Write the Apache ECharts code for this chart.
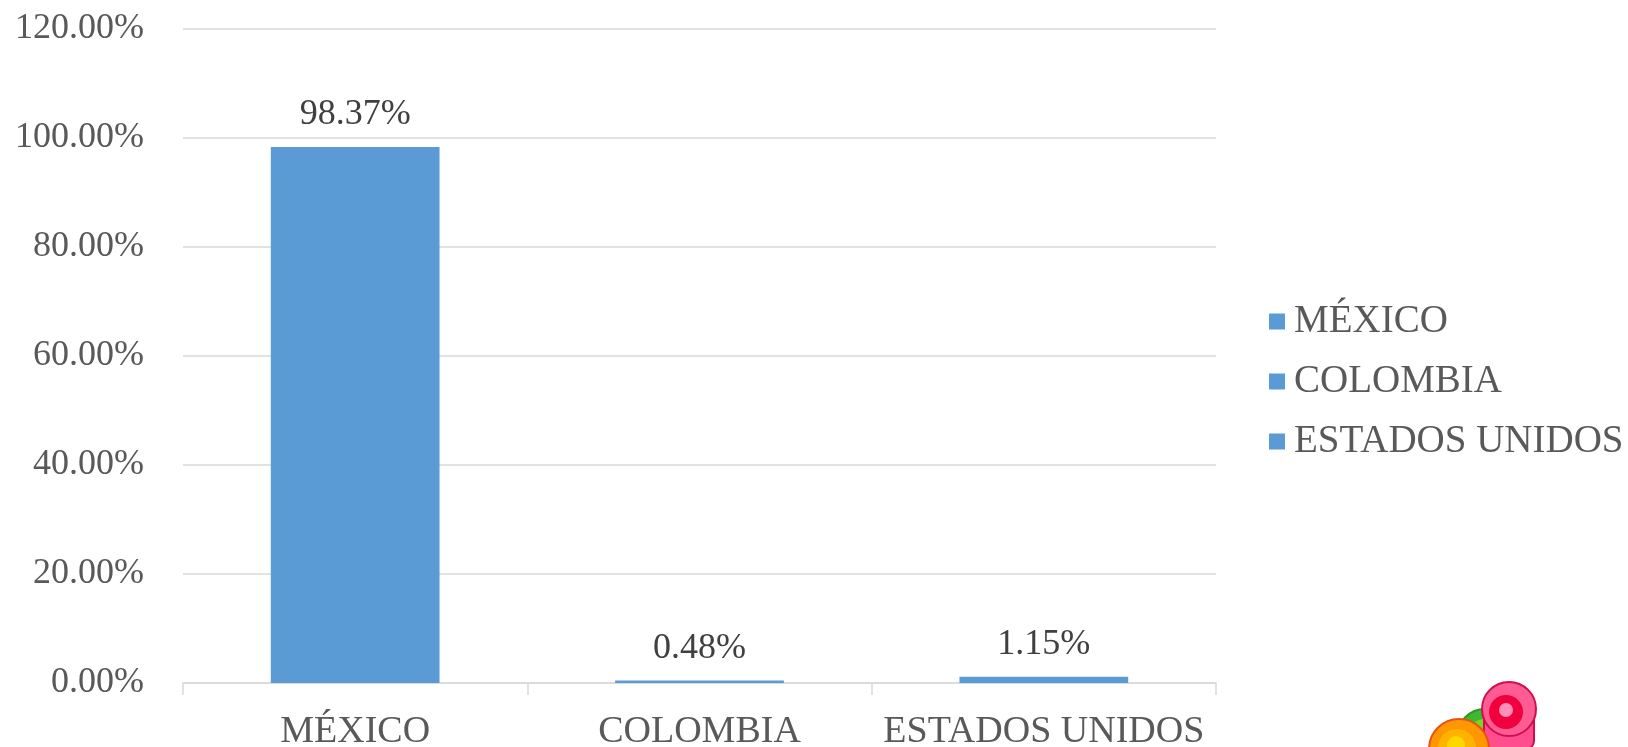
<!DOCTYPE html>
<html>
<head>
<meta charset="utf-8">
<script src="https://cdn.jsdelivr.net/npm/echarts@6/dist/echarts.min.js"></script>
<style>
html,body{margin:0;padding:0;background:#fff;}
#chart{width:1628px;height:747px;}
</style>
</head>
<body>
<div id="chart"></div>
<script>
const categories = ['MÉXICO', 'COLOMBIA', 'ESTADOS UNIDOS'];
const values = [98.37, 0.48, 1.15];
const yTicks = { min: 0, max: 120, interval: 20 };

const FONT = '"Liberation Serif", "DejaVu Serif", serif';
const TEXT = '#595959';
const BAR = '#5B9BD5';

const series = categories.map((name, i) => ({
  name: name,
  type: 'bar',
  stack: 'total',
  barCategoryGap: '51%',
  itemStyle: { color: BAR },
  label: {
    show: true,
    position: 'top',
    distance: 14,
    color: '#404040',
    fontFamily: FONT,
    fontSize: 36,
    formatter: p => p.value.toFixed(2) + '%'
  },
  data: values.map((v, j) => (j === i ? v : '-'))
}));

const chart = echarts.init(document.getElementById('chart'), null, { renderer: 'canvas' });
chart.setOption({
  animation: false,
  backgroundColor: '#fff',
  grid: { left: 183, right: 412, top: 29, bottom: 64, containLabel: false, outerBoundsMode: 'none' },
  legend: {
    orient: 'vertical',
    left: 1264,
    top: 297,
    itemWidth: 16,
    itemHeight: 16,
    itemGap: 21,
    icon: 'rect',
    textStyle: { color: TEXT, fontFamily: FONT, fontSize: 39, padding: [0, 0, 0, 4] },
    data: categories
  },
  xAxis: {
    type: 'category',
    data: categories,
    axisLine: { lineStyle: { color: '#D9D9D9', width: 1.5 } },
    axisTick: { show: true, length: 12, lineStyle: { color: '#D9D9D9', width: 1.5 } },
    axisLabel: { interval: 0, color: TEXT, fontFamily: FONT, fontSize: 38, margin: 30 }
  },
  yAxis: {
    type: 'value',
    min: yTicks.min,
    max: yTicks.max,
    interval: yTicks.interval,
    axisLine: { show: false },
    axisTick: { show: false },
    splitLine: { lineStyle: { color: '#D9D9D9', width: 1.5 } },
    axisLabel: {
      color: TEXT, fontFamily: FONT, fontSize: 36, margin: 39,
      formatter: v => v.toFixed(2) + '%'
    }
  },
  series: series,
  graphic: [
    { type: 'circle', silent: true, shape: { cx: 1485, cy: 737, r: 28 }, style: { fill: '#3DB82F', stroke: '#2E9A22', lineWidth: 2 } },
    { type: 'circle', silent: true, shape: { cx: 1485, cy: 737, r: 18 }, style: { fill: '#7ED321' } },
    { type: 'rect', silent: true, shape: { x: 1484, y: 709, width: 50, height: 40, r: 8 }, style: { fill: '#FF4D8D', stroke: '#D0104C', lineWidth: 2 } },
    { type: 'circle', silent: true, shape: { cx: 1509, cy: 709, r: 27 }, style: { fill: '#FF5C93', stroke: '#D0104C', lineWidth: 2 } },
    { type: 'circle', silent: true, shape: { cx: 1506, cy: 712, r: 17 }, style: { fill: '#F0003C' } },
    { type: 'circle', silent: true, shape: { cx: 1506, cy: 710, r: 7 }, style: { fill: '#FF8FB8' } },
    { type: 'circle', silent: true, shape: { cx: 1459, cy: 749, r: 30 }, style: { fill: '#FF9800', stroke: '#E8501A', lineWidth: 2 } },
    { type: 'circle', silent: true, shape: { cx: 1457, cy: 748, r: 19 }, style: { fill: '#FFB300' } },
    { type: 'circle', silent: true, shape: { cx: 1456, cy: 745, r: 9 }, style: { fill: '#FFD600' } }
  ]
});
</script>
</body>
</html>
